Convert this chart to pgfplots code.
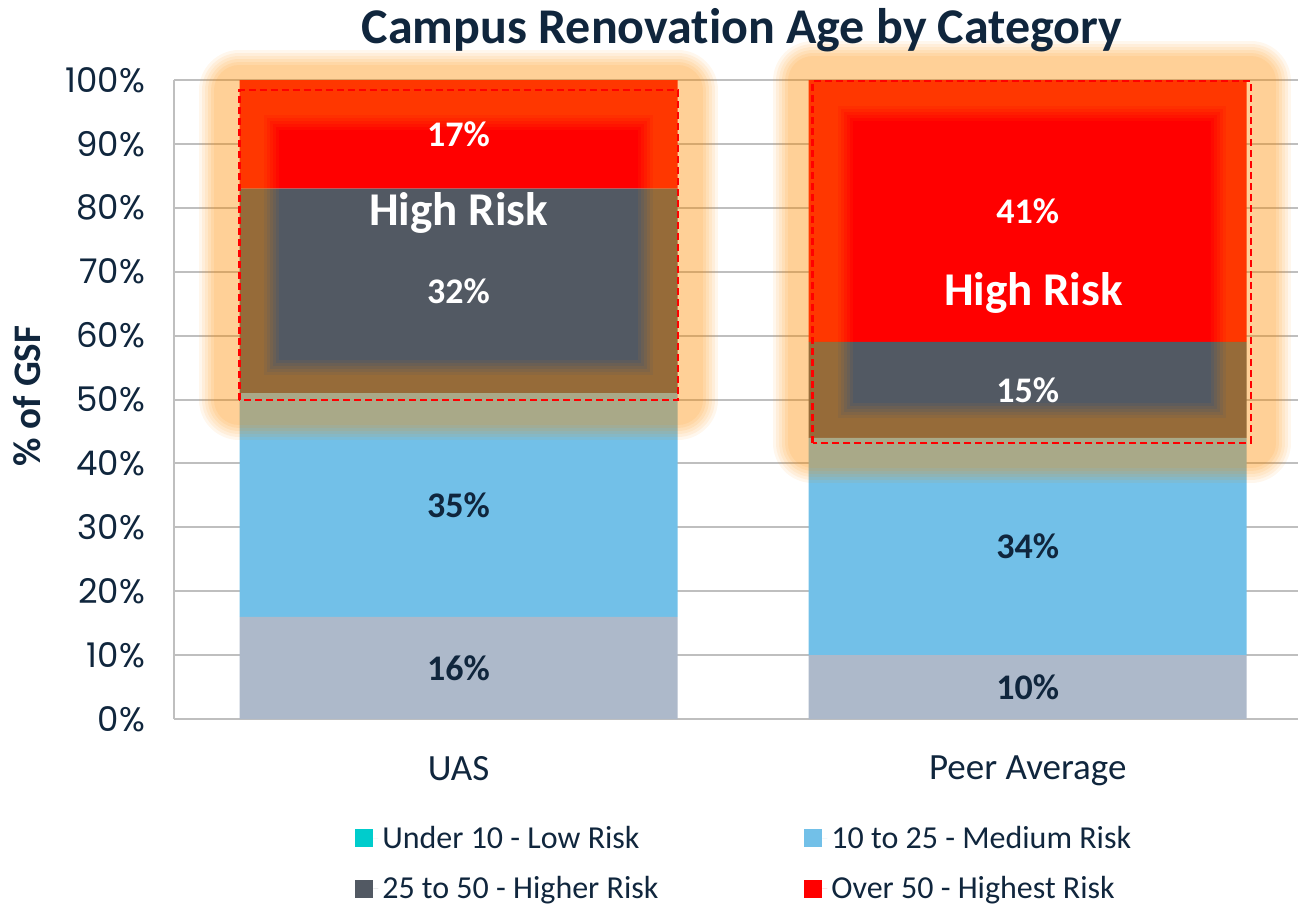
\documentclass[border=0pt]{standalone}
\usepackage{pgfplots}
\pgfplotsset{compat=1.18}
\usepackage{fontspec}
\setmainfont{Carlito}[Ligatures={NoCommon}]
\newfontfamily\tickfont{Poppins}
\definecolor{lowc}{HTML}{ADB9CA}
\definecolor{medc}{HTML}{72C0E8}
\definecolor{highc}{HTML}{525963}
\definecolor{topc}{HTML}{FF0000}
\definecolor{cyanc}{HTML}{00CCCC}
\definecolor{textc}{HTML}{10263D}
\definecolor{gridc}{HTML}{BFBFBF}
\definecolor{glowc}{HTML}{FF8C00}
\newcommand\glowrect[2]{%
  \draw[glowc, draw opacity=0.07, line width=40pt, line join=round] (#1) rectangle (#2);
  \draw[glowc, draw opacity=0.08, line width=37pt, line join=round] (#1) rectangle (#2);
  \draw[glowc, draw opacity=0.08, line width=34pt, line join=round] (#1) rectangle (#2);
  \draw[glowc, draw opacity=0.09, line width=31pt, line join=round] (#1) rectangle (#2);
  \draw[glowc, draw opacity=0.09, line width=28pt, line join=round] (#1) rectangle (#2);
  \draw[glowc, draw opacity=0.09, line width=25pt, line join=round] (#1) rectangle (#2);
  \draw[topc, line width=1.1pt, dash pattern=on 3.5pt off 2pt] (#1) rectangle (#2);
}
\newcommand\legsq[1]{\fill[#1] (0pt,-4.5pt) rectangle (9pt,4.5pt); \draw[draw=none] (9pt,0pt) -- (11.5pt,0pt);}
\begin{document}
\begin{tikzpicture}
\useasboundingbox (0,0) rectangle (649pt,453.5pt);
\begin{axis}[
  at={(87pt,94pt)}, anchor=south west,
  scale only axis, width=562pt, height=319.5pt,
  ybar stacked, bar width=219pt,
  xmin=-0.5, xmax=1.475, ymin=0, ymax=100,
  clip=false,
  xtick={0,1}, xticklabels={UAS, Peer Average},
  ytick={0,10,...,100},
  yticklabel={\pgfmathprintnumber{\tick}\%},
  /pgf/number format/assume math mode=true,
  major tick length=0pt,
  axis x line*=bottom, axis y line*=left,
  axis line style={draw=gridc, line width=1pt, -},
  ymajorgrids, grid style={draw=gridc, line width=1pt},
  yticklabel style={font=\tickfont\fontsize{17}{20}\selectfont, text=textc, xshift=-11pt},
  xticklabel style={font=\fontsize{18.5}{22}\selectfont, text=textc, yshift=-15pt},
  legend columns=2,
  legend cell align=left,
  legend style={at={(0.1556,-0.154)}, anchor=north west, draw=none, fill=none,
    font=\fontsize{16}{19}\selectfont, text=textc,
    /tikz/every even column/.append style={column sep=71pt},
    row sep=8.5pt},
]
\addplot[fill=lowc, draw=none, legend image code/.code={\legsq{cyanc}}] coordinates {(0,16) (1,10)};
\addlegendentry{Under 10 - Low Risk}
\addplot[fill=medc, draw=none, legend image code/.code={\legsq{medc}}] coordinates {(0,35) (1,34)};
\addlegendentry{10 to 25 - Medium Risk}
\addplot[fill=highc, draw=none, legend image code/.code={\legsq{highc}}] coordinates {(0,32) (1,15)};
\addlegendentry{25 to 50 - Higher Risk}
\addplot[fill=topc, draw=none, legend image code/.code={\legsq{topc}}] coordinates {(0,17) (1,41)};
\addlegendentry{Over 50 - Highest Risk}
\coordinate (ua) at (axis cs:-0.385,49.9);
\coordinate (ub) at (axis cs:0.385,98.4);
\coordinate (pa) at (axis cs:0.622,43.2);
\coordinate (pb) at (axis cs:1.392,99.8);
\coordinate (l1) at (axis cs:0,8);
\coordinate (l2) at (axis cs:0,33.5);
\coordinate (l3) at (axis cs:0,67);
\coordinate (l4) at (axis cs:0,91.5);
\coordinate (m1) at (axis cs:1,5);
\coordinate (m2) at (axis cs:1,27);
\coordinate (m3) at (axis cs:1,51.5);
\coordinate (m4) at (axis cs:1,79.5);
\coordinate (h1) at (axis cs:0,79.2);
\coordinate (h2) at (axis cs:1.01,66.7);
\end{axis}
\glowrect{ua}{ub}
\glowrect{pa}{pb}
\begin{scope}[every node/.style={font=\bfseries\fontsize{18}{21}\selectfont}]
\node[text=textc] at (l1) {16\%};
\node[text=textc] at (l2) {35\%};
\node[text=white] at (l3) {32\%};
\node[text=white] at (l4) {17\%};
\node[text=textc] at (m1) {10\%};
\node[text=textc] at (m2) {34\%};
\node[text=white] at (m3) {15\%};
\node[text=white] at (m4) {41\%};
\end{scope}
\node[font=\bfseries\fontsize{23.5}{27}\selectfont, text=white] at (h1) {High Risk};
\node[font=\bfseries\fontsize{23.5}{27}\selectfont, text=white] at (h2) {High Risk};
\node[font=\bfseries\fontsize{25}{29}\selectfont, text=textc] at (371pt,438.5pt) {Campus Renovation Age by Category};
\node[font=\bfseries\fontsize{19.5}{23}\selectfont, text=textc, rotate=90] at (13.5pt,255.5pt) {\% of GSF};
\end{tikzpicture}
\end{document}
